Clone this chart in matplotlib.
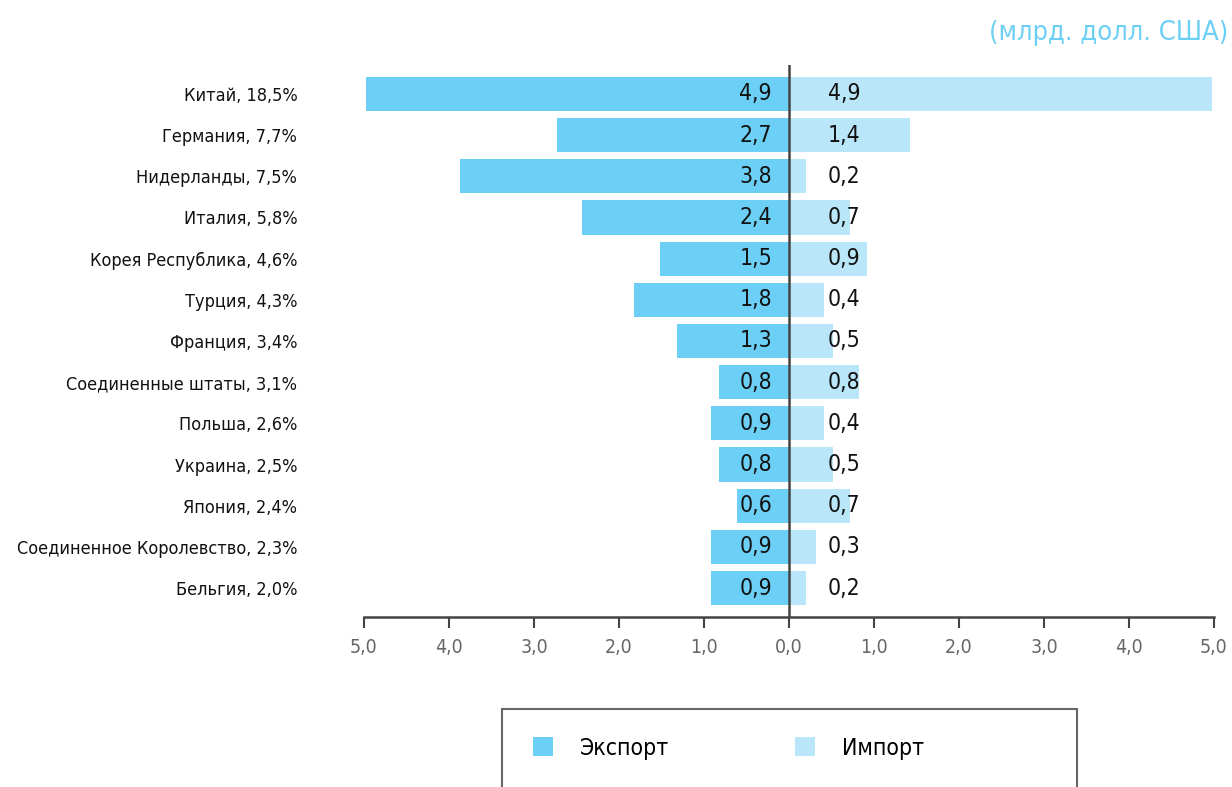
import matplotlib.pyplot as plt
from matplotlib import font_manager
from matplotlib.patches import Rectangle
from matplotlib.ticker import FuncFormatter

# look for a narrow/condensed family, else fall back to Roboto
fam, stretch = "Roboto", "normal"
for f in font_manager.fontManager.ttflist:
    if ("Narrow" in f.name or "Condensed" in f.name) and "Mono" not in f.name:
        fam, stretch = f.name, "normal"
        break
    if f.name == "DejaVu Sans" and str(f.stretch) in ("condensed", "semi-condensed", "500"):
        fam, stretch = "DejaVu Sans", "condensed"
        break
plt.rcParams['font.family'] = [fam, 'DejaVu Sans']
plt.rcParams['font.stretch'] = stretch

# data (bln USD)
countries = ["Китай, 18,5%", "Германия, 7,7%", "Нидерланды, 7,5%", "Италия, 5,8%",
             "Корея Республика, 4,6%", "Турция, 4,3%", "Франция, 3,4%",
             "Соединенные штаты, 3,1%", "Польша, 2,6%", "Украина, 2,5%",
             "Япония, 2,4%", "Соединенное Королевство, 2,3%", "Бельгия, 2,0%"]
export_vals = [4.98, 2.73, 3.87, 2.44, 1.52, 1.82, 1.32, 0.82, 0.92, 0.82, 0.61, 0.92, 0.92]
import_vals = [4.98, 1.42, 0.20, 0.72, 0.92, 0.41, 0.52, 0.82, 0.41, 0.52, 0.72, 0.32, 0.20]
export_labels = ["4,9", "2,7", "3,8", "2,4", "1,5", "1,8", "1,3", "0,8", "0,9", "0,8", "0,6", "0,9", "0,9"]
import_labels = ["4,9", "1,4", "0,2", "0,7", "0,9", "0,4", "0,5", "0,8", "0,4", "0,5", "0,7", "0,3", "0,2"]

c_exp = "#6ccff6"
c_imp = "#bae6f9"

fig = plt.figure(figsize=(12.32, 7.87), dpi=100)
ax = fig.add_axes([364 / 1232, 1 - 617 / 787, 850 / 1232, 552 / 787])

y = list(range(len(countries)))
ax.barh(y, [-v for v in export_vals], height=0.83, color=c_exp, label="Экспорт")
ax.barh(y, import_vals, height=0.83, color=c_imp, label="Импорт")

for i in y:
    ax.text(-0.2, i, export_labels[i], ha="right", va="center", fontsize=16.5, color="#111111")
    ax.text(0.46, i, import_labels[i], ha="left", va="center", fontsize=16.5, color="#111111")

ax.axvline(0, color="#444444", lw=1.8)
ax.set_xlim(-5, 5)
ax.set_ylim(len(countries) - 0.3, -0.7)
ax.set_yticks(y)
ax.set_yticklabels(countries, fontsize=13, color="#111111")
ax.tick_params(axis="y", length=0, pad=48)
ax.set_xticks([-5, -4, -3, -2, -1, 0, 1, 2, 3, 4, 5])
ax.xaxis.set_major_formatter(FuncFormatter(lambda v, p: f"{abs(v):.1f}".replace(".", ",")))
ax.tick_params(axis="x", length=8, width=1.5, color="#444444", labelcolor="#666666",
               labelsize=14, pad=7)
for s in ["top", "left", "right"]:
    ax.spines[s].set_visible(False)
ax.spines["bottom"].set_color("#444444")
ax.spines["bottom"].set_linewidth(1.8)

fig.text(1228 / 1232, 1 - 33 / 787, "(млрд. долл. США)", ha="right", va="center",
         fontsize=19.5, color=c_exp)

fig.patches.append(Rectangle((502 / 1232, -0.05), 575 / 1232, 0.05 + 1 - 709 / 787,
                             transform=fig.transFigure, fill=False, edgecolor="#666666", lw=1.5))
fig.legend(loc="center left", bbox_to_anchor=(533 / 1232, 1 - 748 / 787), ncol=2,
           frameon=False, fontsize=16.5, handlelength=0.87, handleheight=0.87,
           handletextpad=1.18, columnspacing=5.5, borderpad=0, borderaxespad=0)

fig.savefig("out.png", dpi=100)
